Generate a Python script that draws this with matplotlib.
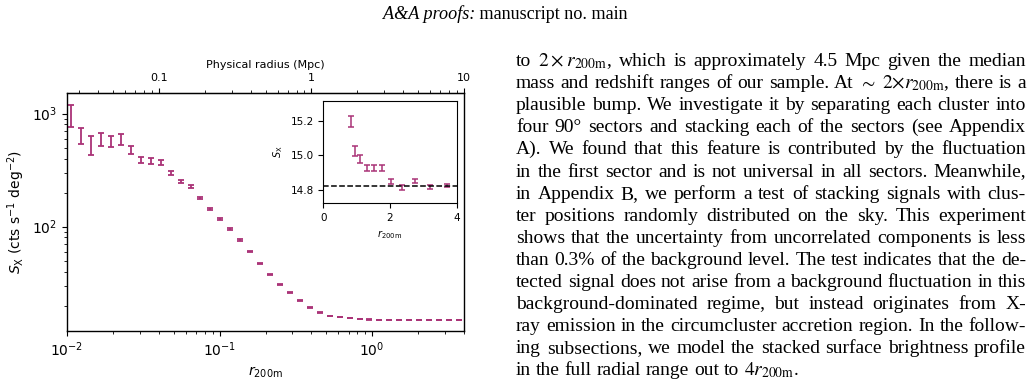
import matplotlib
matplotlib.use('Agg')
import matplotlib.pyplot as plt
from matplotlib.ticker import FixedLocator, FixedFormatter, NullFormatter, LogLocator

# ---------------- data ----------------
r200m = [0.01067, 0.01240, 0.01440, 0.01673, 0.01944, 0.02259, 0.02624, 0.03049,
         0.03542, 0.04115, 0.04781, 0.05555, 0.06454, 0.07498, 0.08711, 0.1012,
         0.1176, 0.1366, 0.1587, 0.1844, 0.2143, 0.2489, 0.2892, 0.3360,
         0.3904, 0.4535, 0.5269, 0.6122, 0.7112, 0.8263, 0.9600, 1.1153,
         1.2958, 1.5054, 1.7490, 2.0320, 2.3608, 2.7428, 3.1866, 3.7022]
sx = [982, 642, 533, 595, 570, 591, 481, 390, 382, 370, 297, 251, 227, 178, 142,
      116.5, 95.0, 76.2, 60.0, 47.3, 37.5, 30.6, 25.9, 22.2, 19.1, 17.4, 16.2,
      15.8, 15.45, 15.20, 15.024, 14.979, 14.926, 14.926, 14.926, 14.847, 14.813,
      14.851, 14.816, 14.822]
sx_err = [220, 105, 100, 83, 63, 64, 39, 24, 22, 18, 11, 8, 7, 4, 2.5, 2.0, 1.8,
          1.0, 0.8, 0.6, 0.5, 0.4, 0.3, 0.2, 0.15, 0.1, 0.08, 0.06, 0.05, 0.033,
          0.029, 0.024, 0.019, 0.019, 0.019, 0.014, 0.013, 0.010, 0.010, 0.008]
inset_start = 29           # inset shows the outer bins
background = 14.82
mpc_per_r200m = 2.5
top_ticks = [0.1, 1, 10]
top_ticklabels = ['0.1', '1', '10']

header_italic = "A&A proofs:"
header_roman = " manuscript no. main"
body_lines = [
    r"to $2\:\times\:{r}_\mathrm{200m}$, which is approximately 4.5 Mpc given the median",
    r"mass and redshift ranges of our sample. At $\sim$ $2{\times}{r}_\mathrm{200m}$, there is a",
    r"plausible bump. We investigate it by separating each cluster into",
    r"four 90° sectors and stacking each of the sectors (see Appendix",
    r"A). We found that this feature is contributed by the fluctuation",
    r"in the first sector and is not universal in all sectors. Meanwhile,",
    r"in Appendix B, we perform a test of stacking signals with clus-",
    r"ter positions randomly distributed on the sky. This experiment",
    r"shows that the uncertainty from uncorrelated components is less",
    r"than 0.3% of the background level. The test indicates that the de-",
    r"tected signal does not arise from a background fluctuation in this",
    r"background-dominated regime, but instead originates from X-",
    r"ray emission in the circumcluster accretion region. In the follow-",
    r"ing subsections, we model the stacked surface brightness profile",
    r"in the full radial range out to $4{r}_\mathrm{200m}$.",
]

COLOR = '#aa3377'
W, H = 1034, 386

fig = plt.figure(figsize=(W / 100, H / 100), dpi=100)

# ---------------- main axes ----------------
ax = fig.add_axes([67 / W, 1 - 331 / H, (464 - 67) / W, (331 - 93) / H])
ax.errorbar(r200m, sx, yerr=sx_err, fmt='none', ecolor=COLOR, elinewidth=1.3,
            capsize=2.3, capthick=1.3)
ax.set_xscale('log')
ax.set_yscale('log')
ax.set_xlim(0.01, 4.0)
ax.set_ylim(11.9, 1520)
ax.tick_params(labelsize=10)
for s in ax.spines.values():
    s.set_linewidth(1.0)
ax.set_xlabel(r'$r_{\rm 200m}$', fontsize=10)
ax.set_ylabel(r'$S_{\rm X}$ (cts s$^{-1}$ deg$^{-2}$)', fontsize=10)

sec = ax.secondary_xaxis('top', functions=(lambda x: x * mpc_per_r200m,
                                           lambda x: x / mpc_per_r200m))
sec.xaxis.set_major_locator(FixedLocator(top_ticks))
sec.xaxis.set_major_formatter(FixedFormatter(top_ticklabels))
sec.xaxis.set_minor_locator(LogLocator(subs=[2, 3, 4, 5, 6, 7, 8, 9]))
sec.xaxis.set_minor_formatter(NullFormatter())
sec.tick_params(labelsize=8)
sec.set_xlabel('Physical radius (Mpc)', fontsize=8)

# ---------------- inset ----------------
axin = fig.add_axes([323.3 / W, 1 - 203.3 / H, (456.7 - 323.3) / W, (203.3 - 100.7) / H])
axin.errorbar(r200m[inset_start:], sx[inset_start:], yerr=sx_err[inset_start:],
              fmt='none', ecolor=COLOR, elinewidth=1.1, capsize=2.0, capthick=1.1)
axin.axhline(background, color='k', ls='--', lw=1.1)
axin.set_xlim(0, 4)
axin.set_ylim(14.72, 15.32)
axin.set_xticks([0, 2, 4])
axin.set_yticks([14.8, 15.0, 15.2])
axin.set_yticklabels(['14.8', '15.0', '15.2'])
axin.tick_params(labelsize=7.5)
axin.set_xlabel(r'$r_{\rm 200m}$', fontsize=7)
axin.set_ylabel(r'$S_{\rm X}$', fontsize=7)

# ---------------- page text ----------------
renderer = fig.canvas.get_renderer()
SERIF = 'Liberation Serif'
FS_HEAD = 13.1
FS = 14.0

def px_w(t):
    return t.get_window_extent(renderer).width

# header
hy = 1 - 19 / H
t1 = fig.text(0, hy, header_italic, fontsize=FS_HEAD, family=SERIF, style='italic', va='baseline')
t2 = fig.text(0, hy, header_roman, fontsize=FS_HEAD, family=SERIF, va='baseline')
w1, w2 = px_w(t1), px_w(t2)
x0 = 505 - (w1 + w2) / 2
t1.set_x(x0 / W)
t2.set_x((x0 + w1) / W)

# justified body
X0, X1 = 516.0, 1026.0
base0, lead = 66.0, 22.1
space_px = 0.25 * FS * 100 / 72
for i, line in enumerate(body_lines):
    yb = 1 - (base0 + i * lead) / H
    words = line.split(' ')
    texts = [fig.text(0, yb, wd, fontsize=FS, family=SERIF, math_fontfamily='stix',
                      va='baseline') for wd in words]
    widths = [px_w(t) for t in texts]
    if i < len(body_lines) - 1 and len(words) > 1:
        gap = (X1 - X0 - sum(widths)) / (len(words) - 1)
    else:
        gap = space_px
    x = X0
    for t, w in zip(texts, widths):
        t.set_x(x / W)
        x += w + gap

fig.savefig('out.png', dpi=100)
